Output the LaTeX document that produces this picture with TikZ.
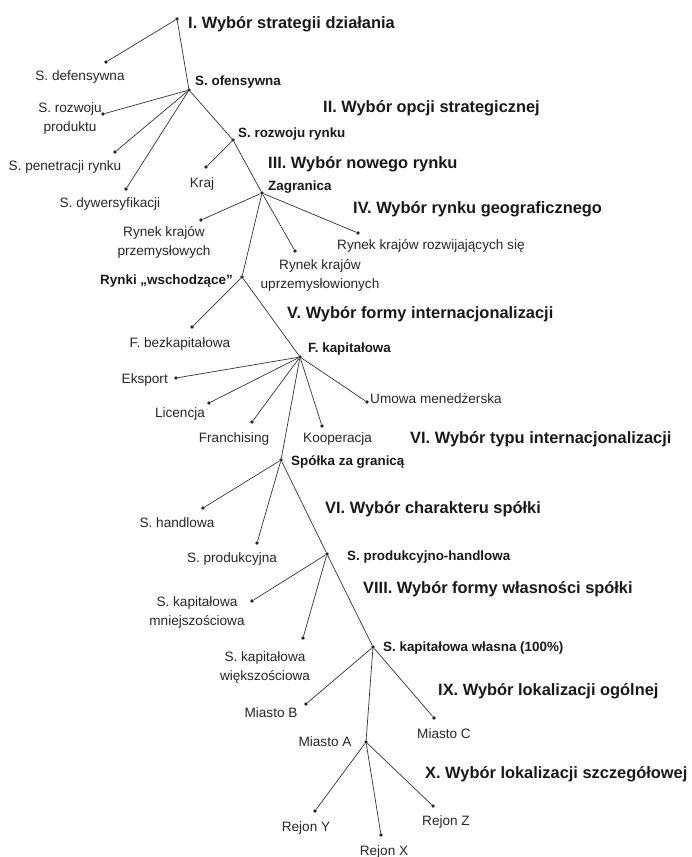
\documentclass[tikz,border=0pt]{standalone}
\usepackage{fontspec}
\setmainfont{Liberation Sans}
\begin{document}
\begin{tikzpicture}[x=1pt,y=-1pt,
  dot/.style={circle,fill=black!85,inner sep=0pt,minimum size=3.6pt},
  edge/.style={draw=black!80,line width=0.7pt},
  opt/.style={inner sep=0pt,text=black!85,font=\fontsize{13.6}{19}\selectfont,align=center},
  optb/.style={inner sep=0pt,text=black!90,font=\bfseries\fontsize{13.4}{18}\selectfont},
  stage/.style={inner sep=0pt,text=black!90,font=\bfseries\fontsize{16.4}{20}\selectfont,anchor=base west}]
\useasboundingbox (0,0) rectangle (692,857);

% decision points
\node[dot] (root)   at (177,19) {};
\node[dot] (def)    at (106,62) {};
\node[dot] (ofe)    at (189,90) {};
\node[dot] (prod)   at (103,114) {};
\node[dot] (pen)    at (115,152) {};
\node[dot] (dyw)    at (126,189) {};
\node[dot] (rryn)   at (233,140) {};
\node[dot] (kraj)   at (206,167) {};
\node[dot] (zagr)   at (262,193) {};
\node[dot] (przem)  at (201,220) {};
\node[dot] (wsch)   at (242,277) {};
\node[dot] (uprz)   at (295,251) {};
\node[dot] (rozw)   at (358,233) {};
\node[dot] (fbez)   at (192,327) {};
\node[dot] (fkap)   at (300,357) {};
\node[dot] (eks)    at (176,378) {};
\node[dot] (lic)    at (209,403) {};
\node[dot] (fran)   at (252,422) {};
\node[dot] (spz)    at (281,460) {};
\node[dot] (koop)   at (322,426) {};
\node[dot] (umowa)  at (367,402) {};
\node[dot] (shan)   at (203,508) {};
\node[dot] (sprod)  at (257,543) {};
\node[dot] (sph)    at (327,554) {};
\node[dot] (mniej)  at (252,601) {};
\node[dot] (wiek)   at (303,638) {};
\node[dot] (wlas)   at (373,647) {};
\node[dot] (mB)     at (306,704) {};
\node[dot] (mA)     at (366,742) {};
\node[dot] (mC)     at (434,718) {};
\node[dot] (rY)     at (315,811) {};
\node[dot] (rX)     at (381,835) {};
\node[dot] (rZ)     at (433,806) {};

% branches
\draw[edge] (root) -- (def);
\draw[edge] (root) -- (ofe);
\draw[edge] (ofe) -- (prod);
\draw[edge] (ofe) -- (pen);
\draw[edge] (ofe) -- (dyw);
\draw[edge] (ofe) -- (rryn);
\draw[edge] (rryn) -- (kraj);
\draw[edge] (rryn) -- (zagr);
\draw[edge] (zagr) -- (przem);
\draw[edge] (zagr) -- (wsch);
\draw[edge] (zagr) -- (uprz);
\draw[edge] (zagr) -- (rozw);
\draw[edge] (wsch) -- (fbez);
\draw[edge] (wsch) -- (fkap);
\draw[edge] (fkap) -- (eks);
\draw[edge] (fkap) -- (lic);
\draw[edge] (fkap) -- (fran);
\draw[edge] (fkap) -- (spz);
\draw[edge] (fkap) -- (koop);
\draw[edge] (fkap) -- (umowa);
\draw[edge] (spz) -- (shan);
\draw[edge] (spz) -- (sprod);
\draw[edge] (spz) -- (sph);
\draw[edge] (sph) -- (mniej);
\draw[edge] (sph) -- (wiek);
\draw[edge] (sph) -- (wlas);
\draw[edge] (wlas) -- (mB);
\draw[edge] (wlas) -- (mA);
\draw[edge] (wlas) -- (mC);
\draw[edge] (mA) -- (rY);
\draw[edge] (mA) -- (rX);
\draw[edge] (mA) -- (rZ);

% option labels (two-line labels sit on the baseline of their last line)
\node[opt,anchor=base] (def-l)   at (80,80)   {S. defensywna};
\node[opt,anchor=base] (prod-l)  at (70,131)  {S. rozwoju\\produktu};
\node[opt,anchor=base] (pen-l)   at (65,170)  {S. penetracji rynku};
\node[opt,anchor=base] (dyw-l)   at (110,207) {S. dywersyfikacji};
\node[opt,anchor=base] (kraj-l)  at (202,187) {Kraj};
\node[opt,anchor=base] (przem-l) at (164,255) {Rynek krajów\\przemysłowych};
\node[opt,anchor=base] (uprz-l)  at (320,288) {Rynek krajów\\uprzemysłowionych};
\node[opt,anchor=base west] (rozw-l) at (337,249) {Rynek krajów rozwijających się};
\node[opt,anchor=base] (fbez-l)  at (180,347) {F. bezkapitałowa};
\node[opt,anchor=base east] (eks-l) at (168,383) {Eksport};
\node[opt,anchor=base] (lic-l)   at (180,417) {Licencja};
\node[opt,anchor=base] (fran-l)  at (234,442) {Franchising};
\node[opt,anchor=base west] (koop-l) at (303,442) {Kooperacja};
\node[opt,anchor=base west] (umowa-l) at (370,403) {Umowa menedżerska};
\node[opt,anchor=base] (shan-l)  at (177,527) {S. handlowa};
\node[opt,anchor=base] (sprod-l) at (232,562) {S. produkcyjna};
\node[opt,anchor=base] (mniej-l) at (197,625) {S. kapitałowa\\mniejszościowa};
\node[opt,anchor=base] (wiek-l)  at (265,680) {S. kapitałowa\\większościowa};
\node[opt,anchor=base] (mB-l)    at (271,717) {Miasto B};
\node[opt,anchor=base] (mC-l)    at (444,738) {Miasto C};
\node[opt,anchor=base] (mA-l)    at (325,746) {Miasto A};
\node[opt,anchor=base] (rY-l)    at (306,831) {Rejon Y};
\node[opt,anchor=base] (rX-l)    at (384,855) {Rejon X};
\node[opt,anchor=base] (rZ-l)    at (446,825) {Rejon Z};

% chosen options
\node[optb,anchor=base west] (ofe-l)  at (195,85)  {S. ofensywna};
\node[optb,anchor=base west] (rryn-l) at (238,137) {S. rozwoju rynku};
\node[optb,anchor=base west] (zagr-l) at (268,190) {Zagranica};
\node[optb,anchor=base east] (wsch-l) at (233,284) {Rynki „wschodzące”};
\node[optb,anchor=base west] (fkap-l) at (308,352) {F. kapitałowa};
\node[optb,anchor=base west] (spz-l)  at (291,465) {Spółka za granicą};
\node[optb,anchor=base west] (sph-l)  at (347,560) {S. produkcyjno-handlowa};
\node[optb,anchor=base west] (wlas-l) at (383,651) {S. kapitałowa własna (100\%)};

% decision stages
\node[stage] (st1)  at (188,28)  {I. Wybór strategii działania};
\node[stage] (st2)  at (323,112) {II. Wybór opcji strategicznej};
\node[stage] (st3)  at (268,168) {III. Wybór nowego rynku};
\node[stage] (st4)  at (353,213) {IV. Wybór rynku geograficznego};
\node[stage] (st5)  at (287,318) {V. Wybór formy internacjonalizacji};
\node[stage] (st6)  at (410,443) {VI. Wybór typu internacjonalizacji};
\node[stage] (st7)  at (325,513) {VI. Wybór charakteru spółki};
\node[stage] (st8)  at (363,593) {VIII. Wybór formy własności spółki};
\node[stage] (st9)  at (438,695) {IX. Wybór lokalizacji ogólnej};
\node[stage] (st10) at (425,778) {X. Wybór lokalizacji szczegółowej};
\end{tikzpicture}
\end{document}
